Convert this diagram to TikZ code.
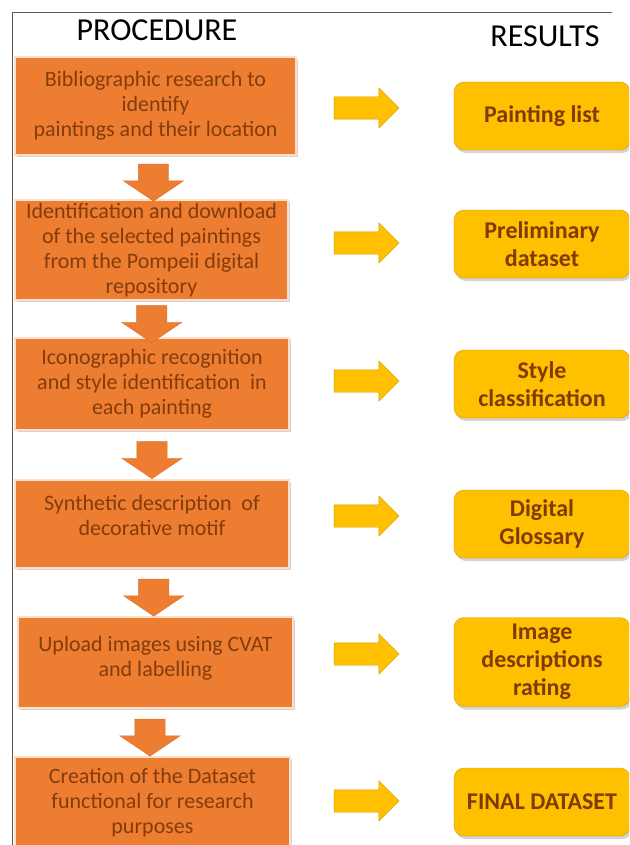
\documentclass[tikz,border=0pt]{standalone}
\usepackage{fontspec}
\setmainfont{Carlito}
\usetikzlibrary{positioning, shapes.arrows, calc, shadows}

\definecolor{procfill}{HTML}{ED7D31}
\definecolor{proctext}{HTML}{843C0C}
\definecolor{resfill}{HTML}{FFC000}
\definecolor{resline}{HTML}{D39E00}
\definecolor{restext}{HTML}{7F3A06}

\begin{document}
\begin{tikzpicture}[x=1pt,y=-1pt,
  proc/.style={draw=white!75!procfill, line width=1.2pt, fill=procfill, text=proctext,
    align=center, inner sep=2pt, font=\fontsize{22}{25}\selectfont,
    drop shadow={shadow xshift=2pt, shadow yshift=-2pt, opacity=.35}},
  res/.style={draw=resline, fill=resfill, text=restext, rounded corners=10pt,
    align=center, minimum width=176, font=\fontsize{24}{28}\selectfont\bfseries,
    drop shadow={shadow xshift=2pt, shadow yshift=-3pt, opacity=.35}},
  downarr/.style={single arrow, shape border rotate=270, fill=procfill, draw=procfill!90!black,
    inner xsep=15pt, inner ysep=0pt, minimum width=60, single arrow head extend=15,
    single arrow tip angle=112, minimum height=37},
  rightarr/.style={single arrow, fill=resfill, draw=resline, inner xsep=0pt, inner ysep=11pt,
    minimum width=40, single arrow head extend=9, minimum height=65},
  title/.style={font=\fontsize{32}{34}\selectfont}]
  \useasboundingbox (0,0) rectangle (629,845);
  \clip (0,0) rectangle (629,845);

  % frame
  \draw[gray!70!black, thin] (612,12) -- (12,12) -- (12,850);

  \node[title] (proc) at (157,30) {PROCEDURE};
  \node[title] (resu) at (545,36) {RESULTS};

  % procedure column
  \node[proc, minimum width=281, minimum height=98] (bib) at (155.5,106)
    {Bibliographic research to\\identify\\paintings and their location};
  \node[proc, minimum width=273, minimum height=100] (ident) at (151.5,250)
    {Identification and download\\of the selected paintings\\from the Pompeii digital\\repository};
  \node[proc, minimum width=274, minimum height=92] (icono) at (152,384)
    {Iconographic recognition\\and style identification~ in\\each painting};
  \node[proc, minimum width=274, minimum height=88, text depth=18pt] (synth) at (152,524)
    {Synthetic description~ of\\decorative motif};
  \node[proc, minimum width=275, minimum height=91, text depth=12pt] (upload) at (155.5,662.5)
    {Upload images using CVAT\\and labelling};
  \node[proc, minimum width=275, minimum height=92] (create) at (152.5,803)
    {Creation of the Dataset\\functional for research\\purposes};

  % results column
  \node[res, minimum height=68] (plist) at (542,116) {Painting list};
  \node[res, minimum height=68] (prelim) at (542,244) {Preliminary\\dataset};
  \node[res, minimum height=68] (style) at (542,384) {Style\\classification};
  \node[res, minimum height=68] (gloss) at (542,524) {Digital\\Glossary};
  \node[res, minimum height=89] (imgdesc) at (542,662) {Image\\descriptions\\rating};
  \node[res, minimum height=68] (final) at (542,802) {FINAL DATASET};

  % down arrows
  \node[downarr] (d1) at ($(bib.south)!0.5!(ident.north)$) {};
  \node[downarr] (d2) at ($(ident.south)!0.5!(icono.north)$) {};
  \node[downarr] (d3) at ($(icono.south)!0.5!(synth.north)$) {};
  \node[downarr] (d4) at ($(synth.south)!0.5!(upload.north)$) {};
  \node[downarr] (d5) at ($(upload.south)!0.5!(create.north)+(-4,0)$) {};

  % right arrows
  \node[rightarr] (r1) at (361,108) {};
  \node[rightarr] (r2) at (361,243) {};
  \node[rightarr] (r3) at (361,381) {};
  \node[rightarr] (r4) at (361,516) {};
  \node[rightarr] (r5) at (361,654) {};
  \node[rightarr] (r6) at (361,801) {};
\end{tikzpicture}
\end{document}
